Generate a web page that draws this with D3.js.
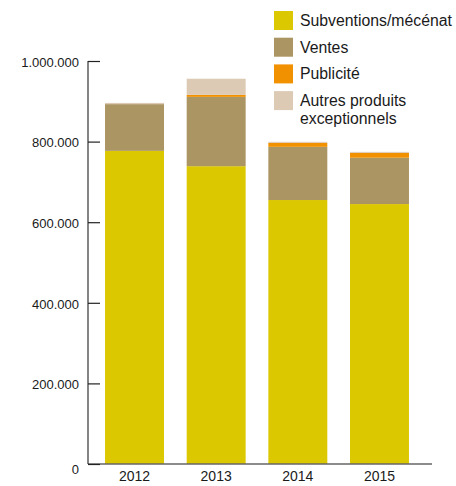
<!DOCTYPE html>
<html>
<head>
<meta charset="utf-8">
<script src="https://cdn.jsdelivr.net/npm/d3@7"></script>
<style>
  body { margin: 0; background: #fff; }
  text { font-family: "Liberation Sans", Arial, sans-serif; fill: #1a1a1a; }
</style>
</head>
<body>
<div id="chart"></div>
<script>
// Years on the x axis
const years = ["2012", "2013", "2014", "2015"];

// Series values (in euros), bottom to top
const subventions = [777000, 739000, 655000, 645000];
const ventes      = [116000, 172000, 132000, 115000];
const publicite   = [0, 5000, 10000, 12000];
const autres      = [3000, 40000, 2500, 2500];

const seriesNames = ["Subventions/mécénat", "Ventes", "Publicité", "Autres produits exceptionnels"];
const seriesColors = ["#dcc800", "#ab9562", "#f29100", "#dccab5"];

const yTicks = [0, 200000, 400000, 600000, 800000, 1000000];

const width = 456, height = 486;

const svg = d3.select("#chart").append("svg")
  .attr("width", width)
  .attr("height", height);

const rows = years.map((y, i) => ({
  year: y,
  s0: subventions[i], s1: ventes[i], s2: publicite[i], s3: autres[i]
}));
const stack = d3.stack().keys(["s0", "s1", "s2", "s3"])(rows);

const x = d3.scaleBand()
  .domain(years)
  .range([93.6, 420.4])
  .paddingInner(0.278)
  .paddingOuter(0.14);

const y = d3.scaleLinear()
  .domain([0, 1000000])
  .range([464, 61]);

// Bars
svg.append("g").selectAll("g")
  .data(stack)
  .join("g")
  .attr("fill", (d, i) => seriesColors[i])
  .selectAll("rect")
  .data(d => d)
  .join("rect")
  .attr("x", d => x(d.data.year))
  .attr("width", x.bandwidth())
  .attr("y", d => y(d[1]))
  .attr("height", d => y(d[0]) - y(d[1]));

// x axis baseline
svg.append("line")
  .attr("x1", 88).attr("x2", 432)
  .attr("y1", y(0)).attr("y2", y(0))
  .attr("stroke", "#666").attr("stroke-width", 1.3);

// y axis
const yAxis = svg.append("g")
  .attr("transform", "translate(88,0)")
  .call(d3.axisRight(y)
    .tickValues(yTicks)
    .tickSize(12)
    .tickFormat(d => d3.format(",")(d).replace(/,/g, ".")));
yAxis.select(".domain").attr("stroke", "#333").attr("stroke-width", 1.2).attr("d", `M0,${y(1000000)}V${y(0)}`);
yAxis.selectAll(".tick line").attr("stroke", "#222").attr("stroke-width", 1.2);
yAxis.selectAll(".tick text")
  .attr("x", -9)
  .attr("dy", "0.4em")
  .attr("text-anchor", "end")
  .style("font-size", "13px")
  .style("fill", "#1a1a1a");
yAxis.selectAll(".tick text").filter(d => d === 0).attr("dy", "0.7em");

// Year labels
svg.append("g").selectAll("text")
  .data(years)
  .join("text")
  .attr("x", d => x(d) + x.bandwidth() / 2)
  .attr("y", 481)
  .attr("text-anchor", "middle")
  .style("font-size", "14px")
  .text(d => d);

// Legend
const legend = svg.append("g").attr("transform", "translate(274,11)");
const items = legend.selectAll("g")
  .data(seriesNames)
  .join("g")
  .attr("transform", (d, i) => `translate(0,${i * 26.7})`);
items.append("rect")
  .attr("width", 19).attr("height", 19)
  .attr("fill", (d, i) => seriesColors[i]);
items.append("text")
  .attr("x", 26)
  .attr("y", 15)
  .style("font-size", "15.8px")
  .each(function(d) {
    const t = d3.select(this);
    const parts = d === "Autres produits exceptionnels" ? ["Autres produits", "exceptionnels"] : [d];
    parts.forEach((p, k) => t.append("tspan").attr("x", 26).attr("dy", k ? 18 : 0).text(p));
  });
</script>
</body>
</html>
